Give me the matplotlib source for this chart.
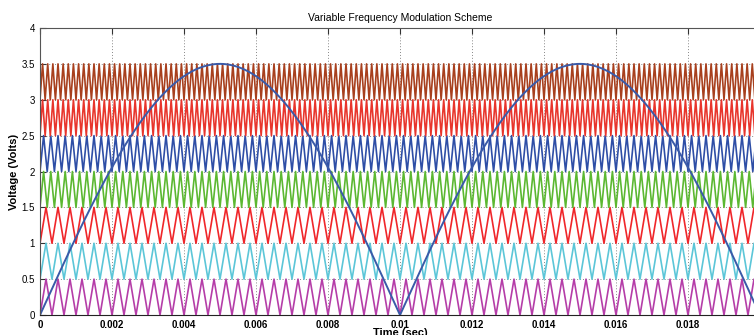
import numpy as np
import matplotlib
matplotlib.use('Agg')
import matplotlib.pyplot as plt
from matplotlib.ticker import FixedLocator, FixedFormatter

plt.rcParams['font.family'] = ['Liberation Sans', 'DejaVu Sans']

# carrier bands (lower level of each triangle band) and carrier frequencies (Hz)
band_lo = [0.0, 0.5, 1.0, 1.5, 2.0, 2.5, 3.0]
band_height = 0.5
carrier_freq = [3000, 3000, 3000, 5000, 5000, 7000, 7000]
carrier_colors = ['#b53da8', '#5cc6d8', '#f0262a', '#5cb832', '#2e4ea6', '#e8352c', '#a8401e']

# rectified sine reference
ref_amp = 3.5
ref_freq = 50

t_end = 0.02
x_ticks = [0, 0.002, 0.004, 0.006, 0.008, 0.01, 0.012, 0.014, 0.016, 0.018, 0.02]
x_labels = ['0', '0.002', '0.004', '0.006', '0.008', '0.01', '0.012', '0.014', '0.016', '0.018', '']
y_ticks = [0, 0.5, 1, 1.5, 2, 2.5, 3, 3.5, 4]
y_labels = ['0', '0.5', '1', '1.5', '2', '2.5', '3', '3.5', '4']

fig = plt.figure(figsize=(7.54, 3.35), dpi=100)
# the original figure is cropped on the right: the axes run past the edge
ax = fig.add_axes([40 / 754, 20 / 335, 720 / 754, 287 / 335])

# triangle carriers, drawn through their vertices (valley at t=0)
for lo, f, c in zip(band_lo, carrier_freq, carrier_colors):
    n = int(round(t_end * f * 2))
    tv = np.arange(n + 1) / (2 * f)
    yv = np.where(np.arange(n + 1) % 2 == 0, lo, lo + band_height)
    ax.plot(tv, yv, color=c, linewidth=1.2)

t = np.linspace(0, t_end, 2000)
ax.plot(t, np.abs(ref_amp * np.sin(2 * np.pi * ref_freq * t)), color='#3a5aa8', linewidth=1.4)

ax.set_xlim(0, t_end)
ax.set_ylim(0, 4)
ax.xaxis.set_major_locator(FixedLocator(x_ticks))
ax.xaxis.set_major_formatter(FixedFormatter(x_labels))
ax.yaxis.set_major_locator(FixedLocator(y_ticks))
ax.yaxis.set_major_formatter(FixedFormatter(y_labels))
ax.tick_params(direction='in', top=True, right=True, length=4, width=0.8, colors='#333333',
               labelcolor='black', labelsize=7)
for lab in ax.get_xticklabels():
    lab.set_fontweight('bold')
ax.grid(True, linestyle=(0, (1, 2)), color='#888888', linewidth=0.7)
ax.set_axisbelow(True)
for s in ['left', 'top']:
    ax.spines[s].set_color('#555555')
ax.spines['bottom'].set_color('#222222')

ax.set_title('Variable Frequency Modulation Scheme', fontsize=7.5, pad=5)
ax.set_xlabel('Time (sec)', fontsize=8, fontweight='bold', labelpad=-1)
ax.set_ylabel('Voltage (Volts)', fontsize=8, fontweight='bold', labelpad=2)

fig.savefig('out.png', dpi=100)
